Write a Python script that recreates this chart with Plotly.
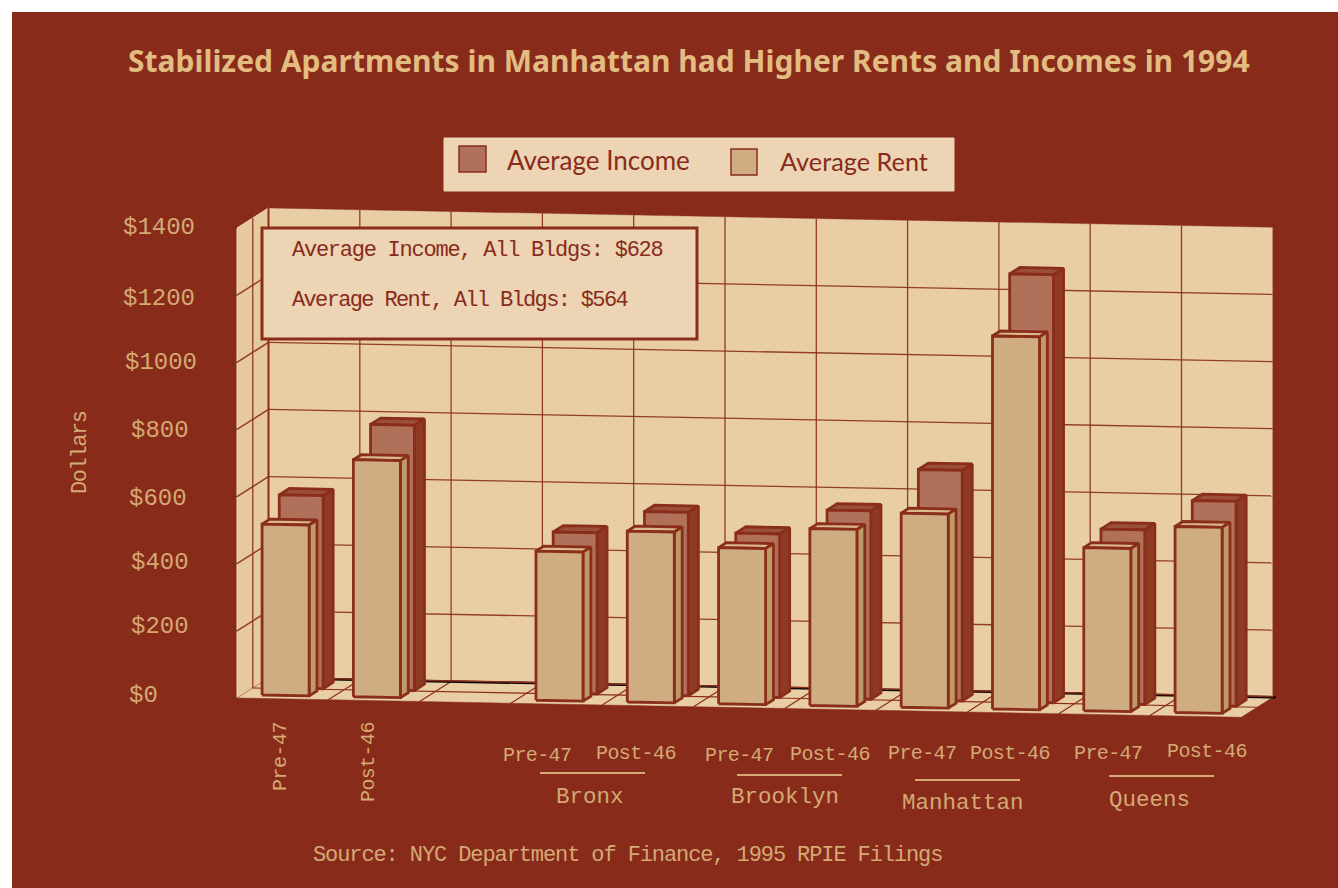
import plotly.graph_objects as go

# ---- data ----
slots = [0, 1, 3, 4, 5, 6, 7, 8, 9, 10]
era_labels = ["Pre-47", "Post-46", "Pre-47", "Post-46", "Pre-47", "Post-46", "Pre-47", "Post-46", "Pre-47", "Post-46"]
average_income = [575, 790, 480, 546, 487, 561, 687, 1275, 520, 610]
average_rent = [509, 706, 444, 509, 465, 527, 578, 1111, 486, 554]
boroughs = ["Bronx", "Brooklyn", "Manhattan", "Queens"]
y_ticks = [0, 200, 400, 600, 800, 1000, 1200, 1400]
y_tick_labels = ["$0", "$200", "$400", "$600", "$800", "$1000", "$1200", "$1400"]
title_text = "Stabilized Apartments in Manhattan had Higher Rents and Incomes in 1994"
note_lines = ["Average Income, All Bldgs: $628", "Average Rent, All Bldgs: $564"]
source_text = "Source: NYC Department of Finance, 1995 RPIE Filings"

# ---- palette ----
BG = "#892B1B"; WALL = "#E8CDA5"; PANEL = "#ECD4B4"; TAN = "#D4A973"; LINE = "#8A2D1B"
RENT = ("#CFAD80", "#BE9A66", "#D9B98D")
INCOME = ("#B0705A", "#8F3A24", "#9A4F38")
MONO = "Liberation Mono"

# ---- oblique projection onto the axes (x axis: slot units, y axis: dollars) ----
W, X0, Y0, PPV = 91.3, 237.0, 698.0, 0.3357
DX, DY, SLOPE = 31.5, 20.0, 1.75
def proj(u, d, v):
    return u + d * DX / W, v + (DY * d - SLOPE * u) / PPV
def poly(pts):
    p = [proj(*q) for q in pts]
    p.append(p[0])
    return [a for a, _ in p], [b for _, b in p]
def px(X):  # figure pixel -> paper
    return (X - 12) / 1326
def py(Y):
    return 1 - (Y - 12) / 876
def squeezed(s, spacing):
    return f'<span style="letter-spacing:{spacing}px">{s}</span>'

fig = go.Figure()
def add_poly(pts, fill, line=LINE, width=2.8, name=None):
    x, y = poly(pts)
    fig.add_trace(go.Scatter(x=x, y=y, mode="lines", fill="toself", fillcolor=fill,
                             line=dict(color=line, width=width), hoverinfo="skip",
                             showlegend=False, name=name))
def add_line(pts, color=LINE, width=1):
    x, y = zip(*[proj(*q) for q in pts])
    fig.add_trace(go.Scatter(x=x, y=y, mode="lines", line=dict(color=color, width=width),
                             hoverinfo="skip", showlegend=False))

NSLOT, TOP = 11, y_ticks[-1]
GRID = "rgba(138,45,27,0.9)"
# walls and floor
add_poly([(0, 1, 0), (NSLOT, 1, 0), (NSLOT, 1, TOP), (0, 1, TOP)], WALL, "rgba(135,41,26,0.35)", 1, "back wall")
add_poly([(0, 0, 0), (0, 1, 0), (0, 1, TOP), (0, 0, TOP)], "#E6C99C", "#F0DCC0", 1, "side wall")
add_poly([(0, 0, 0), (NSLOT, 0, 0), (NSLOT, 1, 0), (0, 1, 0)], WALL, "rgba(135,41,26,0.5)", 1, "floor")
for t in y_ticks[1:-1]:
    add_line([(0, 1, t), (NSLOT, 1, t)], GRID, 1.3)
    add_line([(0, 0, t), (0, 1, t)], GRID, 1.5)
add_line([(0, 0.5, 0), (0, 0.5, TOP)], GRID, 1.3)
add_line([(0, 1, 0), (0, 1, TOP)], LINE, 2)
for u in range(1, NSLOT):
    add_line([(u, 1, 0), (u, 1, TOP)], GRID, 1.3)
    add_line([(u, 0, 0), (u, 1, 0)], LINE, 1.2)
add_line([(0, 0.5, 0), (NSLOT, 0.5, 0)], LINE, 1.2)
add_line([(0, 1, 0), (NSLOT + 0.03, 1, 0)], "black", 2.5)
add_line([(0, 1.03, 0), (NSLOT, 1.03, 0)], LINE, 1.5)
for u in range(0, NSLOT + 1):  # faint ticks
    add_line([(u, 0, 0), (u, 0, -70)], "#84291A", 1)
for t in y_ticks:
    x, y = proj(0, 0, t)
    fig.add_trace(go.Scatter(x=[x - 0.3, x], y=[y, y], mode="lines", line=dict(color="#84291A", width=1),
                             hoverinfo="skip", showlegend=False))

def add_bar(u0, du, d0, dd, v, col, name):
    u1 = u0 + du; d1 = d0 + dd
    add_poly([(u0, d0, v), (u1, d0, v), (u1, d1, v), (u0, d1, v)], col[2], name=name + " top")
    add_poly([(u1, d0, 0), (u1, d1, 0), (u1, d1, v), (u1, d0, v)], col[1], name=name + " side")
    add_poly([(u0, d0, 0), (u1, d0, 0), (u1, d0, v), (u0, d0, v)], col[0], name=name)

for s, inc, rent in zip(slots, average_income, average_rent):
    add_bar(s + 0.28, 0.48, 0.53, 0.32, inc, INCOME, "Average Income")
    add_bar(s + 0.216, 0.515, 0.17, 0.25, rent, RENT, "Average Rent")

# ---- texts ----
ann = []
def text(X, Y, s, size, color=TAN, font=MONO, angle=0, anchor="center"):
    ann.append(dict(x=px(X), y=py(Y), xref="paper", yref="paper", text=s, showarrow=False, textangle=angle,
                    xanchor=anchor, yanchor="middle", font=dict(family=font, size=size, color=color)))
tick_nudges = [(-17, 3), (0, 4), (0, 1), (-2, -2), (0, -1), (1, 0), (-1, -3), (-1, 1)]
for t, lab, (nx, ny) in zip(y_ticks, y_tick_labels, tick_nudges):
    ann.append(dict(x=proj(0, 0, t)[0], y=t, xref="x", yref="y", xshift=160 - X0 + nx, yshift=ny, text=lab,
                    showarrow=False, xanchor="center", yanchor="middle",
                    font=dict(family=MONO, size=24, color=TAN)))
text(80, 453, squeezed("Dollars", -1.4), 22, angle=-90)
text(280, 757, squeezed(era_labels[0], -0.5), 20, angle=-90)
text(368, 762, squeezed(era_labels[1], -0.6), 20, angle=-90)
for (X, Y), lab in zip([(537, 755), (636, 753), (739, 755), (830, 754), (922, 753), (1010, 753), (1108, 753), (1207, 751)], era_labels[2:]):
    text(X, Y, squeezed(lab, -0.6), 20)
shapes = []
for (X, Y, LX, LY), b in zip([(590, 797, 540, 773), (785, 797, 737, 775), (963, 803, 915, 780), (1149, 800, 1109, 776)], boroughs):
    text(X, Y, b, 22.5)
    shapes.append(dict(type="line", xref="paper", yref="paper", x0=px(LX), x1=px(LX + 105), y0=py(LY), y1=py(LY),
                       line=dict(color=TAN, width=2)))
text(627, 855, squeezed(source_text, -1.1), 22)
def rect(x0, y0, x1, y1, fill, line, w):
    shapes.append(dict(type="rect", xref="paper", yref="paper", x0=px(x0), x1=px(x1), y0=py(y0), y1=py(y1),
                       fillcolor=fill, line=dict(color=line, width=w), layer="above"))
rect(262, 228, 697, 339, PANEL, LINE, 3)
text(290, 250, squeezed(note_lines[0], -1.25), 22, BG, anchor="left")
text(290, 300, squeezed(note_lines[1], -1.65), 22, BG, anchor="left")
rect(444, 138, 954, 191, PANEL, PANEL, 1)
rect(459, 146, 486, 172, INCOME[0], LINE, 1.5)
rect(731, 149, 757, 175, RENT[0], LINE, 1.5)
text(505, 160, "Average Income", 26, BG, "Lato", anchor="left")
text(778, 161, "Average Rent", 25.3, BG, "Lato", anchor="left")
text(689, 60, "<b>" + title_text + "</b>", 30, "#E2BC80", "Noto Sans")

fig.update_layout(
    width=1338, height=888, margin=dict(l=12, r=0, t=12, b=0), paper_bgcolor="white", plot_bgcolor=BG,
    annotations=ann, shapes=shapes, showlegend=False, hovermode=False,
    xaxis=dict(range=[(12 - X0) / W, (1338 - X0) / W], visible=False, fixedrange=True),
    yaxis=dict(range=[(Y0 - 888) / PPV, (Y0 - 12) / PPV], visible=False, fixedrange=True),
)
fig.write_html("out.html", post_script="document.body.style.margin='0';", config={"displayModeBar": False})
